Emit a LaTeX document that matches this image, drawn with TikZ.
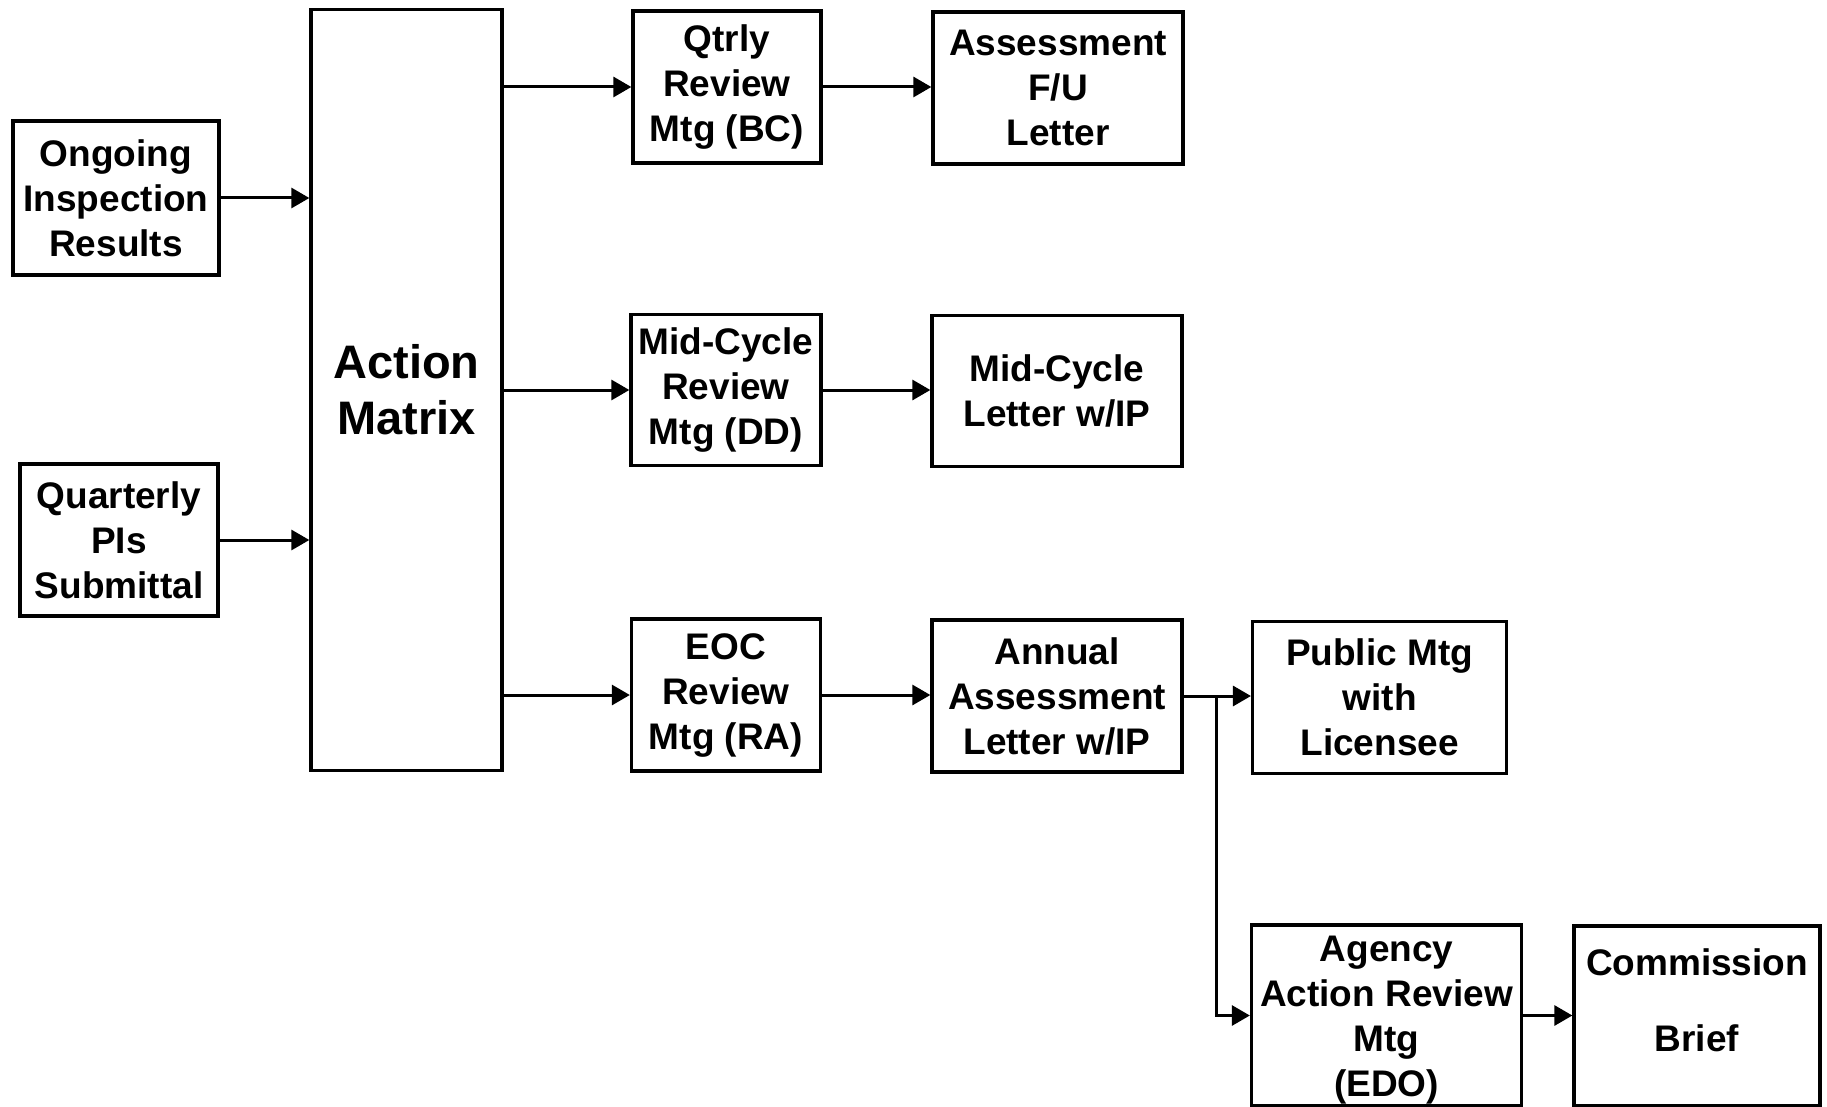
\documentclass[tikz,border=0pt]{standalone}
\usepackage{fontspec}
\setmainfont{Liberation Sans}
\usetikzlibrary{arrows.meta}
\begin{document}
\begin{tikzpicture}[x=1pt,y=-1pt,
  box/.style={draw=black,line width=3.3pt,inner sep=0pt,align=center,
    font=\bfseries\fontsize{37}{45}\selectfont},
  lbl/.style={inner sep=0pt,align=center,font=\bfseries\fontsize{37}{45}\selectfont},
  arr/.style={line width=3pt,-{Triangle[length=18pt,width=20pt]}}]
\useasboundingbox (0,0) rectangle (1827,1107);
\node[box,minimum width=206pt,minimum height=154pt] (ongoing) at (116,198) {Ongoing\\Inspection\\Results};
\node[box,minimum width=198pt,minimum height=152pt] (quarterly) at (119,540) {Quarterly\\PIs\\Submittal};
\node[box,minimum width=191pt,minimum height=761pt,font=\bfseries\fontsize{47}{56}\selectfont] (action) at (406.5,390) {Action\\Matrix};
\node[box,minimum width=188pt,minimum height=152pt] (qtrly) at (727,87) {Qtrly\\Review\\Mtg (BC)};
\node[box,minimum width=250pt,minimum height=152pt] (assess) at (1058,88) {Assessment\\F/U\\Letter};
\node[box,minimum width=190pt,minimum height=151pt] (midrev) at (726,390) {Mid-Cycle\\Review\\Mtg (DD)};
\node[box,minimum width=250pt,minimum height=151pt] (midlet) at (1057,391) {Mid-Cycle\\Letter w/IP};
\node[box,minimum width=189pt,minimum height=152pt] (eoc) at (726,695) {EOC\\Review\\Mtg (RA)};
\node[box,minimum width=250pt,minimum height=152pt] (annual) at (1057,696) {Annual\\Assessment\\Letter w/IP};
\node[box,minimum width=254pt,minimum height=152pt] (public) at (1379.6,697.5) {Public Mtg\\with\\Licensee};
\node[box,minimum width=270pt,minimum height=181pt] (agency) at (1386.5,1015.5) {};
\node[lbl] (agencytext) at (1386.5,1020) {Agency\\Action Review\\Mtg\\(EDO)};
\node[box,minimum width=246pt,minimum height=180pt] (commission) at (1697,1016) {};
\node[lbl,font=\bfseries\fontsize{37}{76}\selectfont] (commtext) at (1697,1000) {Commission\\Brief};
\coordinate (j) at (1216.5,696);
\draw[arr] (ongoing.east) -- (ongoing.east -| action.west);
\draw[arr] (quarterly.east) -- (quarterly.east -| action.west);
\draw[arr] (action.east |- qtrly.west) -- (qtrly.west);
\draw[arr] (action.east |- midrev.west) -- (midrev.west);
\draw[arr] (action.east |- eoc.west) -- (eoc.west);
\draw[arr] (qtrly.east) -- (qtrly.east -| assess.west);
\draw[arr] (midrev.east) -- (midrev.east -| midlet.west);
\draw[arr] (eoc.east) -- (eoc.east -| annual.west);
\draw[arr] (annual.east) -- (annual.east -| public.west);
\draw[arr] (j) |- (agency.west);
\draw[arr] (agency.east) -- (agency.east -| commission.west);
\end{tikzpicture}
\end{document}
